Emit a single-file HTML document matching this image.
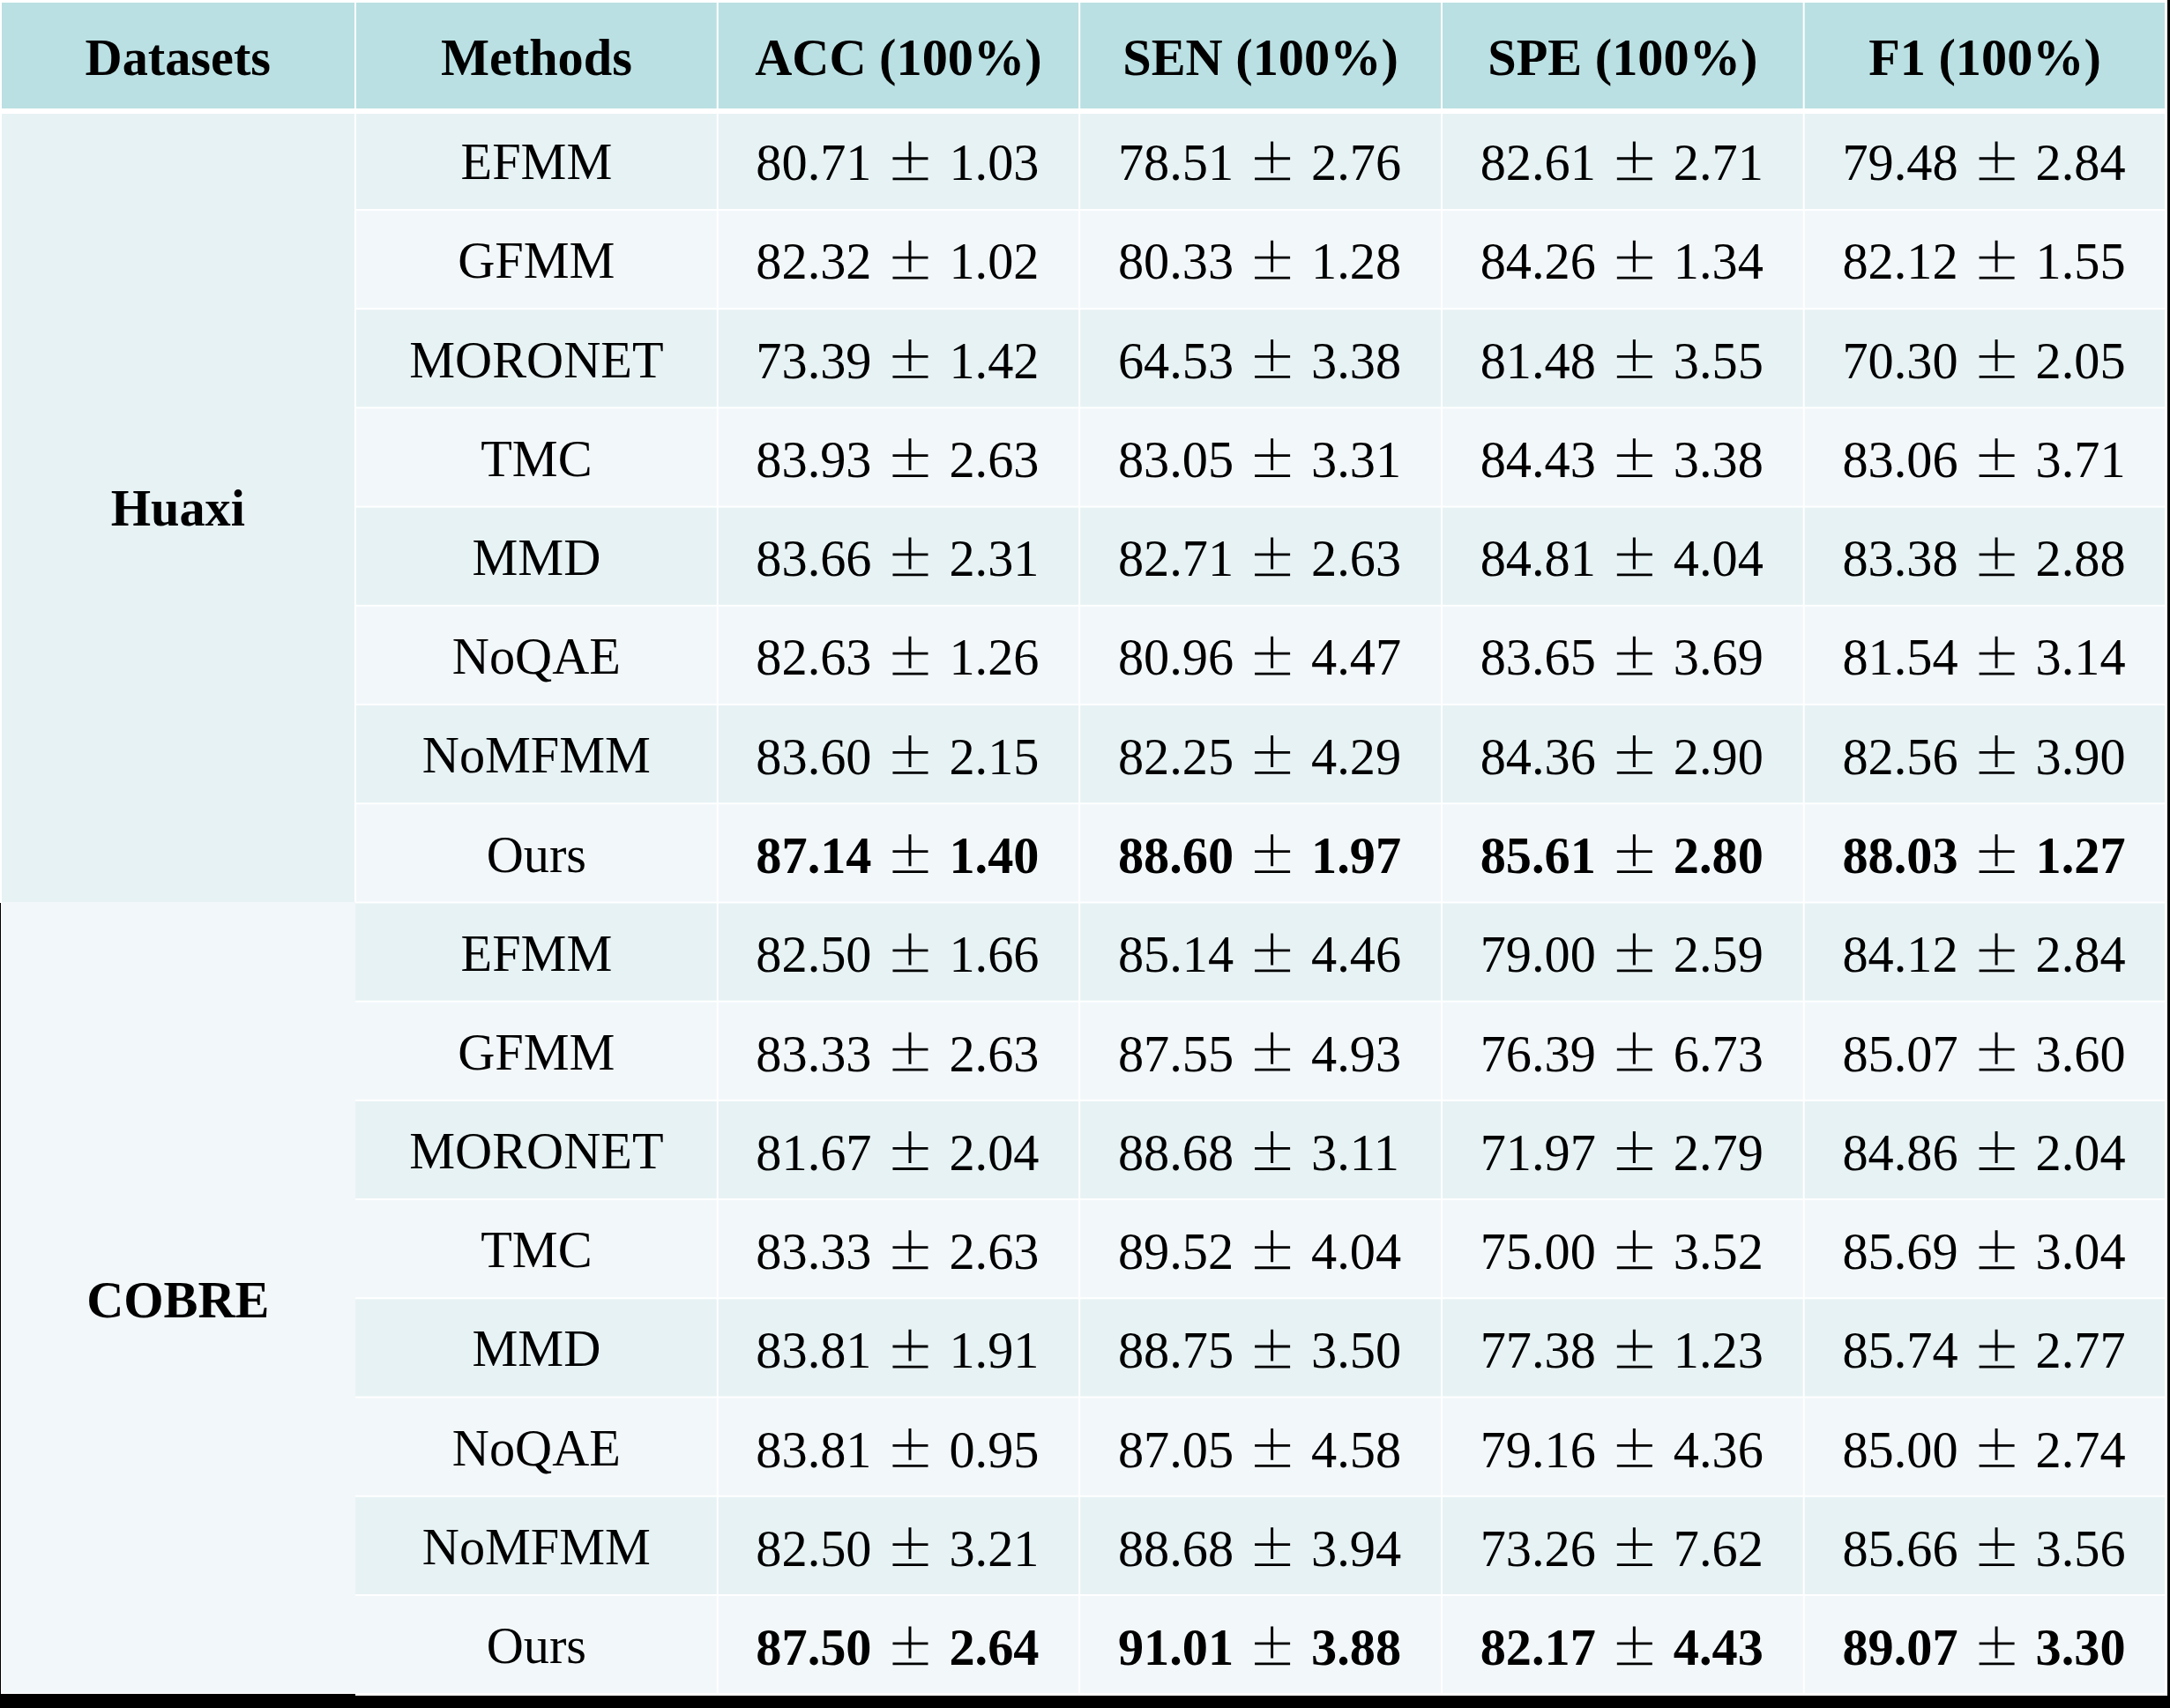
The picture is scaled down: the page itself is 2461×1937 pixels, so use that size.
<!DOCTYPE html>
<html><head><meta charset="utf-8"><title>Results table</title>
<style>
html,body{margin:0;padding:0}
body{width:2461px;height:1937px;position:relative;overflow:hidden;background:#fff;font-family:"Liberation Serif",serif;color:#000}
svg.bg{position:absolute;left:0;top:0}
.t,.l{position:absolute;font-size:58.3px;line-height:100px;height:100px;white-space:nowrap}
.t{text-align:center;width:400px}
.b{font-weight:bold}
</style></head><body>
<svg class="bg" width="2461" height="1937" viewBox="0 0 2461 1937">
<rect x="2" y="3" width="400" height="120" fill="#BAE0E3"/>
<rect x="404" y="3" width="408.75" height="120" fill="#BAE0E3"/>
<rect x="814.75" y="3" width="408.45" height="120" fill="#BAE0E3"/>
<rect x="1225.2" y="3" width="408.8" height="120" fill="#BAE0E3"/>
<rect x="1636" y="3" width="408.67" height="120" fill="#BAE0E3"/>
<rect x="2046.67" y="3" width="408.33" height="120" fill="#BAE0E3"/>
<rect x="404" y="129" width="408.75" height="108" fill="#E7F2F4"/>
<rect x="814.75" y="129" width="408.45" height="108" fill="#E7F2F4"/>
<rect x="1225.2" y="129" width="408.8" height="108" fill="#E7F2F4"/>
<rect x="1636" y="129" width="408.67" height="108" fill="#E7F2F4"/>
<rect x="2046.67" y="129" width="408.33" height="108" fill="#E7F2F4"/>
<rect x="404" y="239" width="408.75" height="110.21" fill="#F2F7FA"/>
<rect x="814.75" y="239" width="408.45" height="110.21" fill="#F2F7FA"/>
<rect x="1225.2" y="239" width="408.8" height="110.21" fill="#F2F7FA"/>
<rect x="1636" y="239" width="408.67" height="110.21" fill="#F2F7FA"/>
<rect x="2046.67" y="239" width="408.33" height="110.21" fill="#F2F7FA"/>
<rect x="404" y="351.21" width="408.75" height="110.21" fill="#E7F2F4"/>
<rect x="814.75" y="351.21" width="408.45" height="110.21" fill="#E7F2F4"/>
<rect x="1225.2" y="351.21" width="408.8" height="110.21" fill="#E7F2F4"/>
<rect x="1636" y="351.21" width="408.67" height="110.21" fill="#E7F2F4"/>
<rect x="2046.67" y="351.21" width="408.33" height="110.21" fill="#E7F2F4"/>
<rect x="404" y="463.42" width="408.75" height="110.21" fill="#F2F7FA"/>
<rect x="814.75" y="463.42" width="408.45" height="110.21" fill="#F2F7FA"/>
<rect x="1225.2" y="463.42" width="408.8" height="110.21" fill="#F2F7FA"/>
<rect x="1636" y="463.42" width="408.67" height="110.21" fill="#F2F7FA"/>
<rect x="2046.67" y="463.42" width="408.33" height="110.21" fill="#F2F7FA"/>
<rect x="404" y="575.63" width="408.75" height="110.21" fill="#E7F2F4"/>
<rect x="814.75" y="575.63" width="408.45" height="110.21" fill="#E7F2F4"/>
<rect x="1225.2" y="575.63" width="408.8" height="110.21" fill="#E7F2F4"/>
<rect x="1636" y="575.63" width="408.67" height="110.21" fill="#E7F2F4"/>
<rect x="2046.67" y="575.63" width="408.33" height="110.21" fill="#E7F2F4"/>
<rect x="404" y="687.84" width="408.75" height="110.21" fill="#F2F7FA"/>
<rect x="814.75" y="687.84" width="408.45" height="110.21" fill="#F2F7FA"/>
<rect x="1225.2" y="687.84" width="408.8" height="110.21" fill="#F2F7FA"/>
<rect x="1636" y="687.84" width="408.67" height="110.21" fill="#F2F7FA"/>
<rect x="2046.67" y="687.84" width="408.33" height="110.21" fill="#F2F7FA"/>
<rect x="404" y="800.05" width="408.75" height="110.21" fill="#E7F2F4"/>
<rect x="814.75" y="800.05" width="408.45" height="110.21" fill="#E7F2F4"/>
<rect x="1225.2" y="800.05" width="408.8" height="110.21" fill="#E7F2F4"/>
<rect x="1636" y="800.05" width="408.67" height="110.21" fill="#E7F2F4"/>
<rect x="2046.67" y="800.05" width="408.33" height="110.21" fill="#E7F2F4"/>
<rect x="404" y="912.26" width="408.75" height="110.21" fill="#F2F7FA"/>
<rect x="814.75" y="912.26" width="408.45" height="110.21" fill="#F2F7FA"/>
<rect x="1225.2" y="912.26" width="408.8" height="110.21" fill="#F2F7FA"/>
<rect x="1636" y="912.26" width="408.67" height="110.21" fill="#F2F7FA"/>
<rect x="2046.67" y="912.26" width="408.33" height="110.21" fill="#F2F7FA"/>
<rect x="403" y="1024.47" width="409.75" height="110.21" fill="#E7F2F4"/>
<rect x="814.75" y="1024.47" width="408.45" height="110.21" fill="#E7F2F4"/>
<rect x="1225.2" y="1024.47" width="408.8" height="110.21" fill="#E7F2F4"/>
<rect x="1636" y="1024.47" width="408.67" height="110.21" fill="#E7F2F4"/>
<rect x="2046.67" y="1024.47" width="408.33" height="110.21" fill="#E7F2F4"/>
<rect x="403" y="1136.68" width="409.75" height="110.21" fill="#F2F7FA"/>
<rect x="814.75" y="1136.68" width="408.45" height="110.21" fill="#F2F7FA"/>
<rect x="1225.2" y="1136.68" width="408.8" height="110.21" fill="#F2F7FA"/>
<rect x="1636" y="1136.68" width="408.67" height="110.21" fill="#F2F7FA"/>
<rect x="2046.67" y="1136.68" width="408.33" height="110.21" fill="#F2F7FA"/>
<rect x="403" y="1248.89" width="409.75" height="110.21" fill="#E7F2F4"/>
<rect x="814.75" y="1248.89" width="408.45" height="110.21" fill="#E7F2F4"/>
<rect x="1225.2" y="1248.89" width="408.8" height="110.21" fill="#E7F2F4"/>
<rect x="1636" y="1248.89" width="408.67" height="110.21" fill="#E7F2F4"/>
<rect x="2046.67" y="1248.89" width="408.33" height="110.21" fill="#E7F2F4"/>
<rect x="403" y="1361.1" width="409.75" height="110.21" fill="#F2F7FA"/>
<rect x="814.75" y="1361.1" width="408.45" height="110.21" fill="#F2F7FA"/>
<rect x="1225.2" y="1361.1" width="408.8" height="110.21" fill="#F2F7FA"/>
<rect x="1636" y="1361.1" width="408.67" height="110.21" fill="#F2F7FA"/>
<rect x="2046.67" y="1361.1" width="408.33" height="110.21" fill="#F2F7FA"/>
<rect x="403" y="1473.31" width="409.75" height="110.21" fill="#E7F2F4"/>
<rect x="814.75" y="1473.31" width="408.45" height="110.21" fill="#E7F2F4"/>
<rect x="1225.2" y="1473.31" width="408.8" height="110.21" fill="#E7F2F4"/>
<rect x="1636" y="1473.31" width="408.67" height="110.21" fill="#E7F2F4"/>
<rect x="2046.67" y="1473.31" width="408.33" height="110.21" fill="#E7F2F4"/>
<rect x="403" y="1585.52" width="409.75" height="110.21" fill="#F2F7FA"/>
<rect x="814.75" y="1585.52" width="408.45" height="110.21" fill="#F2F7FA"/>
<rect x="1225.2" y="1585.52" width="408.8" height="110.21" fill="#F2F7FA"/>
<rect x="1636" y="1585.52" width="408.67" height="110.21" fill="#F2F7FA"/>
<rect x="2046.67" y="1585.52" width="408.33" height="110.21" fill="#F2F7FA"/>
<rect x="403" y="1697.73" width="409.75" height="110.21" fill="#E7F2F4"/>
<rect x="814.75" y="1697.73" width="408.45" height="110.21" fill="#E7F2F4"/>
<rect x="1225.2" y="1697.73" width="408.8" height="110.21" fill="#E7F2F4"/>
<rect x="1636" y="1697.73" width="408.67" height="110.21" fill="#E7F2F4"/>
<rect x="2046.67" y="1697.73" width="408.33" height="110.21" fill="#E7F2F4"/>
<rect x="403" y="1809.94" width="409.75" height="110.06" fill="#F2F7FA"/>
<rect x="814.75" y="1809.94" width="408.45" height="110.06" fill="#F2F7FA"/>
<rect x="1225.2" y="1809.94" width="408.8" height="110.06" fill="#F2F7FA"/>
<rect x="1636" y="1809.94" width="408.67" height="110.06" fill="#F2F7FA"/>
<rect x="2046.67" y="1809.94" width="408.33" height="110.06" fill="#F2F7FA"/>
<rect x="2" y="129" width="400" height="894" fill="#E7F2F4"/>
<rect x="2" y="1023" width="401" height="897" fill="#F2F7FA"/>
<rect x="2458" y="0" width="3" height="1937" fill="#000"/>
<rect x="0" y="1921" width="403" height="16" fill="#000"/>
<rect x="403" y="1923" width="2055" height="14" fill="#000"/>
<rect x="0" y="1024" width="1" height="897" fill="#000"/>
<path d="M1012.47 178.37h40v2.77h-40zM1012.47 201.40h40v2.78h-40zM1030.47 160.40h3v35.94h-3z"/>
<path d="M1423.10 178.37h40v2.77h-40zM1423.10 201.40h40v2.78h-40zM1441.10 160.40h3v35.94h-3z"/>
<path d="M1833.84 178.37h40v2.77h-40zM1833.84 201.40h40v2.78h-40zM1851.84 160.40h3v35.94h-3z"/>
<path d="M2244.59 178.37h40v2.77h-40zM2244.59 201.40h40v2.78h-40zM2262.59 160.40h3v35.94h-3z"/>
<path d="M1012.47 290.64h40v2.77h-40zM1012.47 313.67h40v2.78h-40zM1030.47 272.67h3v35.94h-3z"/>
<path d="M1423.10 290.64h40v2.77h-40zM1423.10 313.67h40v2.78h-40zM1441.10 272.67h3v35.94h-3z"/>
<path d="M1833.84 290.64h40v2.77h-40zM1833.84 313.67h40v2.78h-40zM1851.84 272.67h3v35.94h-3z"/>
<path d="M2244.59 290.64h40v2.77h-40zM2244.59 313.67h40v2.78h-40zM2262.59 272.67h3v35.94h-3z"/>
<path d="M1012.47 402.91h40v2.77h-40zM1012.47 425.94h40v2.78h-40zM1030.47 384.94h3v35.94h-3z"/>
<path d="M1423.10 402.91h40v2.77h-40zM1423.10 425.94h40v2.78h-40zM1441.10 384.94h3v35.94h-3z"/>
<path d="M1833.84 402.91h40v2.77h-40zM1833.84 425.94h40v2.78h-40zM1851.84 384.94h3v35.94h-3z"/>
<path d="M2244.59 402.91h40v2.77h-40zM2244.59 425.94h40v2.78h-40zM2262.59 384.94h3v35.94h-3z"/>
<path d="M1012.47 515.18h40v2.77h-40zM1012.47 538.21h40v2.78h-40zM1030.47 497.21h3v35.94h-3z"/>
<path d="M1423.10 515.18h40v2.77h-40zM1423.10 538.21h40v2.78h-40zM1441.10 497.21h3v35.94h-3z"/>
<path d="M1833.84 515.18h40v2.77h-40zM1833.84 538.21h40v2.78h-40zM1851.84 497.21h3v35.94h-3z"/>
<path d="M2244.59 515.18h40v2.77h-40zM2244.59 538.21h40v2.78h-40zM2262.59 497.21h3v35.94h-3z"/>
<path d="M1012.47 627.45h40v2.77h-40zM1012.47 650.48h40v2.78h-40zM1030.47 609.48h3v35.94h-3z"/>
<path d="M1423.10 627.45h40v2.77h-40zM1423.10 650.48h40v2.78h-40zM1441.10 609.48h3v35.94h-3z"/>
<path d="M1833.84 627.45h40v2.77h-40zM1833.84 650.48h40v2.78h-40zM1851.84 609.48h3v35.94h-3z"/>
<path d="M2244.59 627.45h40v2.77h-40zM2244.59 650.48h40v2.78h-40zM2262.59 609.48h3v35.94h-3z"/>
<path d="M1012.47 739.72h40v2.77h-40zM1012.47 762.75h40v2.78h-40zM1030.47 721.75h3v35.94h-3z"/>
<path d="M1423.10 739.72h40v2.77h-40zM1423.10 762.75h40v2.78h-40zM1441.10 721.75h3v35.94h-3z"/>
<path d="M1833.84 739.72h40v2.77h-40zM1833.84 762.75h40v2.78h-40zM1851.84 721.75h3v35.94h-3z"/>
<path d="M2244.59 739.72h40v2.77h-40zM2244.59 762.75h40v2.78h-40zM2262.59 721.75h3v35.94h-3z"/>
<path d="M1012.47 851.99h40v2.77h-40zM1012.47 875.02h40v2.78h-40zM1030.47 834.02h3v35.94h-3z"/>
<path d="M1423.10 851.99h40v2.77h-40zM1423.10 875.02h40v2.78h-40zM1441.10 834.02h3v35.94h-3z"/>
<path d="M1833.84 851.99h40v2.77h-40zM1833.84 875.02h40v2.78h-40zM1851.84 834.02h3v35.94h-3z"/>
<path d="M2244.59 851.99h40v2.77h-40zM2244.59 875.02h40v2.78h-40zM2262.59 834.02h3v35.94h-3z"/>
<path d="M1012.47 964.26h40v2.77h-40zM1012.47 987.29h40v2.78h-40zM1030.47 946.29h3v35.94h-3z"/>
<path d="M1423.10 964.26h40v2.77h-40zM1423.10 987.29h40v2.78h-40zM1441.10 946.29h3v35.94h-3z"/>
<path d="M1833.84 964.26h40v2.77h-40zM1833.84 987.29h40v2.78h-40zM1851.84 946.29h3v35.94h-3z"/>
<path d="M2244.59 964.26h40v2.77h-40zM2244.59 987.29h40v2.78h-40zM2262.59 946.29h3v35.94h-3z"/>
<path d="M1012.47 1076.53h40v2.77h-40zM1012.47 1099.56h40v2.78h-40zM1030.47 1058.56h3v35.94h-3z"/>
<path d="M1423.10 1076.53h40v2.77h-40zM1423.10 1099.56h40v2.78h-40zM1441.10 1058.56h3v35.94h-3z"/>
<path d="M1833.84 1076.53h40v2.77h-40zM1833.84 1099.56h40v2.78h-40zM1851.84 1058.56h3v35.94h-3z"/>
<path d="M2244.59 1076.53h40v2.77h-40zM2244.59 1099.56h40v2.78h-40zM2262.59 1058.56h3v35.94h-3z"/>
<path d="M1012.47 1188.80h40v2.77h-40zM1012.47 1211.83h40v2.78h-40zM1030.47 1170.83h3v35.94h-3z"/>
<path d="M1423.10 1188.80h40v2.77h-40zM1423.10 1211.83h40v2.78h-40zM1441.10 1170.83h3v35.94h-3z"/>
<path d="M1833.84 1188.80h40v2.77h-40zM1833.84 1211.83h40v2.78h-40zM1851.84 1170.83h3v35.94h-3z"/>
<path d="M2244.59 1188.80h40v2.77h-40zM2244.59 1211.83h40v2.78h-40zM2262.59 1170.83h3v35.94h-3z"/>
<path d="M1012.47 1301.07h40v2.77h-40zM1012.47 1324.10h40v2.78h-40zM1030.47 1283.10h3v35.94h-3z"/>
<path d="M1423.10 1301.07h40v2.77h-40zM1423.10 1324.10h40v2.78h-40zM1441.10 1283.10h3v35.94h-3z"/>
<path d="M1833.84 1301.07h40v2.77h-40zM1833.84 1324.10h40v2.78h-40zM1851.84 1283.10h3v35.94h-3z"/>
<path d="M2244.59 1301.07h40v2.77h-40zM2244.59 1324.10h40v2.78h-40zM2262.59 1283.10h3v35.94h-3z"/>
<path d="M1012.47 1413.34h40v2.77h-40zM1012.47 1436.37h40v2.78h-40zM1030.47 1395.37h3v35.94h-3z"/>
<path d="M1423.10 1413.34h40v2.77h-40zM1423.10 1436.37h40v2.78h-40zM1441.10 1395.37h3v35.94h-3z"/>
<path d="M1833.84 1413.34h40v2.77h-40zM1833.84 1436.37h40v2.78h-40zM1851.84 1395.37h3v35.94h-3z"/>
<path d="M2244.59 1413.34h40v2.77h-40zM2244.59 1436.37h40v2.78h-40zM2262.59 1395.37h3v35.94h-3z"/>
<path d="M1012.47 1525.61h40v2.77h-40zM1012.47 1548.64h40v2.78h-40zM1030.47 1507.64h3v35.94h-3z"/>
<path d="M1423.10 1525.61h40v2.77h-40zM1423.10 1548.64h40v2.78h-40zM1441.10 1507.64h3v35.94h-3z"/>
<path d="M1833.84 1525.61h40v2.77h-40zM1833.84 1548.64h40v2.78h-40zM1851.84 1507.64h3v35.94h-3z"/>
<path d="M2244.59 1525.61h40v2.77h-40zM2244.59 1548.64h40v2.78h-40zM2262.59 1507.64h3v35.94h-3z"/>
<path d="M1012.47 1637.88h40v2.77h-40zM1012.47 1660.91h40v2.78h-40zM1030.47 1619.91h3v35.94h-3z"/>
<path d="M1423.10 1637.88h40v2.77h-40zM1423.10 1660.91h40v2.78h-40zM1441.10 1619.91h3v35.94h-3z"/>
<path d="M1833.84 1637.88h40v2.77h-40zM1833.84 1660.91h40v2.78h-40zM1851.84 1619.91h3v35.94h-3z"/>
<path d="M2244.59 1637.88h40v2.77h-40zM2244.59 1660.91h40v2.78h-40zM2262.59 1619.91h3v35.94h-3z"/>
<path d="M1012.47 1750.15h40v2.77h-40zM1012.47 1773.18h40v2.78h-40zM1030.47 1732.18h3v35.94h-3z"/>
<path d="M1423.10 1750.15h40v2.77h-40zM1423.10 1773.18h40v2.78h-40zM1441.10 1732.18h3v35.94h-3z"/>
<path d="M1833.84 1750.15h40v2.77h-40zM1833.84 1773.18h40v2.78h-40zM1851.84 1732.18h3v35.94h-3z"/>
<path d="M2244.59 1750.15h40v2.77h-40zM2244.59 1773.18h40v2.78h-40zM2262.59 1732.18h3v35.94h-3z"/>
<path d="M1012.47 1862.42h40v2.77h-40zM1012.47 1885.45h40v2.78h-40zM1030.47 1844.45h3v35.94h-3z"/>
<path d="M1423.10 1862.42h40v2.77h-40zM1423.10 1885.45h40v2.78h-40zM1441.10 1844.45h3v35.94h-3z"/>
<path d="M1833.84 1862.42h40v2.77h-40zM1833.84 1885.45h40v2.78h-40zM1851.84 1844.45h3v35.94h-3z"/>
<path d="M2244.59 1862.42h40v2.77h-40zM2244.59 1885.45h40v2.78h-40zM2262.59 1844.45h3v35.94h-3z"/>
</svg>
<div class="t b" style="left:1.80px;top:15.80px">Datasets</div>
<div class="t b" style="left:408.38px;top:15.80px">Methods</div>
<div class="t b" style="left:818.98px;top:15.80px">ACC (100%)</div>
<div class="t b" style="left:1229.60px;top:15.80px">SEN (100%)</div>
<div class="t b" style="left:1640.34px;top:15.80px">SPE (100%)</div>
<div class="t b" style="left:2051.09px;top:15.80px">F1 (100%)</div>
<div class="t b" style="left:1.80px;top:526.60px">Huaxi</div>
<div class="t b" style="left:1.80px;top:1424.60px">COBRE</div>
<div class="t" style="left:408.38px;top:134.20px">EFMM</div>
<div class="l" style="left:857.35px;top:135.10px">80.71</div>
<div class="l" style="left:1076.42px;top:135.10px">1.03</div>
<div class="l" style="left:1267.97px;top:135.10px">78.51</div>
<div class="l" style="left:1487.05px;top:135.10px">2.76</div>
<div class="l" style="left:1678.71px;top:135.10px">82.61</div>
<div class="l" style="left:1897.79px;top:135.10px">2.71</div>
<div class="l" style="left:2089.46px;top:135.10px">79.48</div>
<div class="l" style="left:2308.53px;top:135.10px">2.84</div>
<div class="t" style="left:408.38px;top:246.39px">GFMM</div>
<div class="l" style="left:857.35px;top:247.37px">82.32</div>
<div class="l" style="left:1076.42px;top:247.37px">1.02</div>
<div class="l" style="left:1267.97px;top:247.37px">80.33</div>
<div class="l" style="left:1487.05px;top:247.37px">1.28</div>
<div class="l" style="left:1678.71px;top:247.37px">84.26</div>
<div class="l" style="left:1897.79px;top:247.37px">1.34</div>
<div class="l" style="left:2089.46px;top:247.37px">82.12</div>
<div class="l" style="left:2308.53px;top:247.37px">1.55</div>
<div class="t" style="left:408.38px;top:358.58px">MORONET</div>
<div class="l" style="left:857.35px;top:359.64px">73.39</div>
<div class="l" style="left:1076.42px;top:359.64px">1.42</div>
<div class="l" style="left:1267.97px;top:359.64px">64.53</div>
<div class="l" style="left:1487.05px;top:359.64px">3.38</div>
<div class="l" style="left:1678.71px;top:359.64px">81.48</div>
<div class="l" style="left:1897.79px;top:359.64px">3.55</div>
<div class="l" style="left:2089.46px;top:359.64px">70.30</div>
<div class="l" style="left:2308.53px;top:359.64px">2.05</div>
<div class="t" style="left:408.38px;top:470.77px">TMC</div>
<div class="l" style="left:857.35px;top:471.91px">83.93</div>
<div class="l" style="left:1076.42px;top:471.91px">2.63</div>
<div class="l" style="left:1267.97px;top:471.91px">83.05</div>
<div class="l" style="left:1487.05px;top:471.91px">3.31</div>
<div class="l" style="left:1678.71px;top:471.91px">84.43</div>
<div class="l" style="left:1897.79px;top:471.91px">3.38</div>
<div class="l" style="left:2089.46px;top:471.91px">83.06</div>
<div class="l" style="left:2308.53px;top:471.91px">3.71</div>
<div class="t" style="left:408.38px;top:582.96px">MMD</div>
<div class="l" style="left:857.35px;top:584.18px">83.66</div>
<div class="l" style="left:1076.42px;top:584.18px">2.31</div>
<div class="l" style="left:1267.97px;top:584.18px">82.71</div>
<div class="l" style="left:1487.05px;top:584.18px">2.63</div>
<div class="l" style="left:1678.71px;top:584.18px">84.81</div>
<div class="l" style="left:1897.79px;top:584.18px">4.04</div>
<div class="l" style="left:2089.46px;top:584.18px">83.38</div>
<div class="l" style="left:2308.53px;top:584.18px">2.88</div>
<div class="t" style="left:408.38px;top:695.15px">NoQAE</div>
<div class="l" style="left:857.35px;top:696.45px">82.63</div>
<div class="l" style="left:1076.42px;top:696.45px">1.26</div>
<div class="l" style="left:1267.97px;top:696.45px">80.96</div>
<div class="l" style="left:1487.05px;top:696.45px">4.47</div>
<div class="l" style="left:1678.71px;top:696.45px">83.65</div>
<div class="l" style="left:1897.79px;top:696.45px">3.69</div>
<div class="l" style="left:2089.46px;top:696.45px">81.54</div>
<div class="l" style="left:2308.53px;top:696.45px">3.14</div>
<div class="t" style="left:408.38px;top:807.34px">NoMFMM</div>
<div class="l" style="left:857.35px;top:808.72px">83.60</div>
<div class="l" style="left:1076.42px;top:808.72px">2.15</div>
<div class="l" style="left:1267.97px;top:808.72px">82.25</div>
<div class="l" style="left:1487.05px;top:808.72px">4.29</div>
<div class="l" style="left:1678.71px;top:808.72px">84.36</div>
<div class="l" style="left:1897.79px;top:808.72px">2.90</div>
<div class="l" style="left:2089.46px;top:808.72px">82.56</div>
<div class="l" style="left:2308.53px;top:808.72px">3.90</div>
<div class="t" style="left:408.38px;top:919.53px">Ours</div>
<div class="l b" style="left:857.35px;top:920.99px">87.14</div>
<div class="l b" style="left:1076.42px;top:920.99px">1.40</div>
<div class="l b" style="left:1267.97px;top:920.99px">88.60</div>
<div class="l b" style="left:1487.05px;top:920.99px">1.97</div>
<div class="l b" style="left:1678.71px;top:920.99px">85.61</div>
<div class="l b" style="left:1897.79px;top:920.99px">2.80</div>
<div class="l b" style="left:2089.46px;top:920.99px">88.03</div>
<div class="l b" style="left:2308.53px;top:920.99px">1.27</div>
<div class="t" style="left:408.38px;top:1031.72px">EFMM</div>
<div class="l" style="left:857.35px;top:1033.26px">82.50</div>
<div class="l" style="left:1076.42px;top:1033.26px">1.66</div>
<div class="l" style="left:1267.97px;top:1033.26px">85.14</div>
<div class="l" style="left:1487.05px;top:1033.26px">4.46</div>
<div class="l" style="left:1678.71px;top:1033.26px">79.00</div>
<div class="l" style="left:1897.79px;top:1033.26px">2.59</div>
<div class="l" style="left:2089.46px;top:1033.26px">84.12</div>
<div class="l" style="left:2308.53px;top:1033.26px">2.84</div>
<div class="t" style="left:408.38px;top:1143.91px">GFMM</div>
<div class="l" style="left:857.35px;top:1145.53px">83.33</div>
<div class="l" style="left:1076.42px;top:1145.53px">2.63</div>
<div class="l" style="left:1267.97px;top:1145.53px">87.55</div>
<div class="l" style="left:1487.05px;top:1145.53px">4.93</div>
<div class="l" style="left:1678.71px;top:1145.53px">76.39</div>
<div class="l" style="left:1897.79px;top:1145.53px">6.73</div>
<div class="l" style="left:2089.46px;top:1145.53px">85.07</div>
<div class="l" style="left:2308.53px;top:1145.53px">3.60</div>
<div class="t" style="left:408.38px;top:1256.10px">MORONET</div>
<div class="l" style="left:857.35px;top:1257.80px">81.67</div>
<div class="l" style="left:1076.42px;top:1257.80px">2.04</div>
<div class="l" style="left:1267.97px;top:1257.80px">88.68</div>
<div class="l" style="left:1487.05px;top:1257.80px">3.11</div>
<div class="l" style="left:1678.71px;top:1257.80px">71.97</div>
<div class="l" style="left:1897.79px;top:1257.80px">2.79</div>
<div class="l" style="left:2089.46px;top:1257.80px">84.86</div>
<div class="l" style="left:2308.53px;top:1257.80px">2.04</div>
<div class="t" style="left:408.38px;top:1368.29px">TMC</div>
<div class="l" style="left:857.35px;top:1370.07px">83.33</div>
<div class="l" style="left:1076.42px;top:1370.07px">2.63</div>
<div class="l" style="left:1267.97px;top:1370.07px">89.52</div>
<div class="l" style="left:1487.05px;top:1370.07px">4.04</div>
<div class="l" style="left:1678.71px;top:1370.07px">75.00</div>
<div class="l" style="left:1897.79px;top:1370.07px">3.52</div>
<div class="l" style="left:2089.46px;top:1370.07px">85.69</div>
<div class="l" style="left:2308.53px;top:1370.07px">3.04</div>
<div class="t" style="left:408.38px;top:1480.48px">MMD</div>
<div class="l" style="left:857.35px;top:1482.34px">83.81</div>
<div class="l" style="left:1076.42px;top:1482.34px">1.91</div>
<div class="l" style="left:1267.97px;top:1482.34px">88.75</div>
<div class="l" style="left:1487.05px;top:1482.34px">3.50</div>
<div class="l" style="left:1678.71px;top:1482.34px">77.38</div>
<div class="l" style="left:1897.79px;top:1482.34px">1.23</div>
<div class="l" style="left:2089.46px;top:1482.34px">85.74</div>
<div class="l" style="left:2308.53px;top:1482.34px">2.77</div>
<div class="t" style="left:408.38px;top:1592.67px">NoQAE</div>
<div class="l" style="left:857.35px;top:1594.61px">83.81</div>
<div class="l" style="left:1076.42px;top:1594.61px">0.95</div>
<div class="l" style="left:1267.97px;top:1594.61px">87.05</div>
<div class="l" style="left:1487.05px;top:1594.61px">4.58</div>
<div class="l" style="left:1678.71px;top:1594.61px">79.16</div>
<div class="l" style="left:1897.79px;top:1594.61px">4.36</div>
<div class="l" style="left:2089.46px;top:1594.61px">85.00</div>
<div class="l" style="left:2308.53px;top:1594.61px">2.74</div>
<div class="t" style="left:408.38px;top:1704.86px">NoMFMM</div>
<div class="l" style="left:857.35px;top:1706.88px">82.50</div>
<div class="l" style="left:1076.42px;top:1706.88px">3.21</div>
<div class="l" style="left:1267.97px;top:1706.88px">88.68</div>
<div class="l" style="left:1487.05px;top:1706.88px">3.94</div>
<div class="l" style="left:1678.71px;top:1706.88px">73.26</div>
<div class="l" style="left:1897.79px;top:1706.88px">7.62</div>
<div class="l" style="left:2089.46px;top:1706.88px">85.66</div>
<div class="l" style="left:2308.53px;top:1706.88px">3.56</div>
<div class="t" style="left:408.38px;top:1817.05px">Ours</div>
<div class="l b" style="left:857.35px;top:1819.15px">87.50</div>
<div class="l b" style="left:1076.42px;top:1819.15px">2.64</div>
<div class="l b" style="left:1267.97px;top:1819.15px">91.01</div>
<div class="l b" style="left:1487.05px;top:1819.15px">3.88</div>
<div class="l b" style="left:1678.71px;top:1819.15px">82.17</div>
<div class="l b" style="left:1897.79px;top:1819.15px">4.43</div>
<div class="l b" style="left:2089.46px;top:1819.15px">89.07</div>
<div class="l b" style="left:2308.53px;top:1819.15px">3.30</div>
</body></html>
